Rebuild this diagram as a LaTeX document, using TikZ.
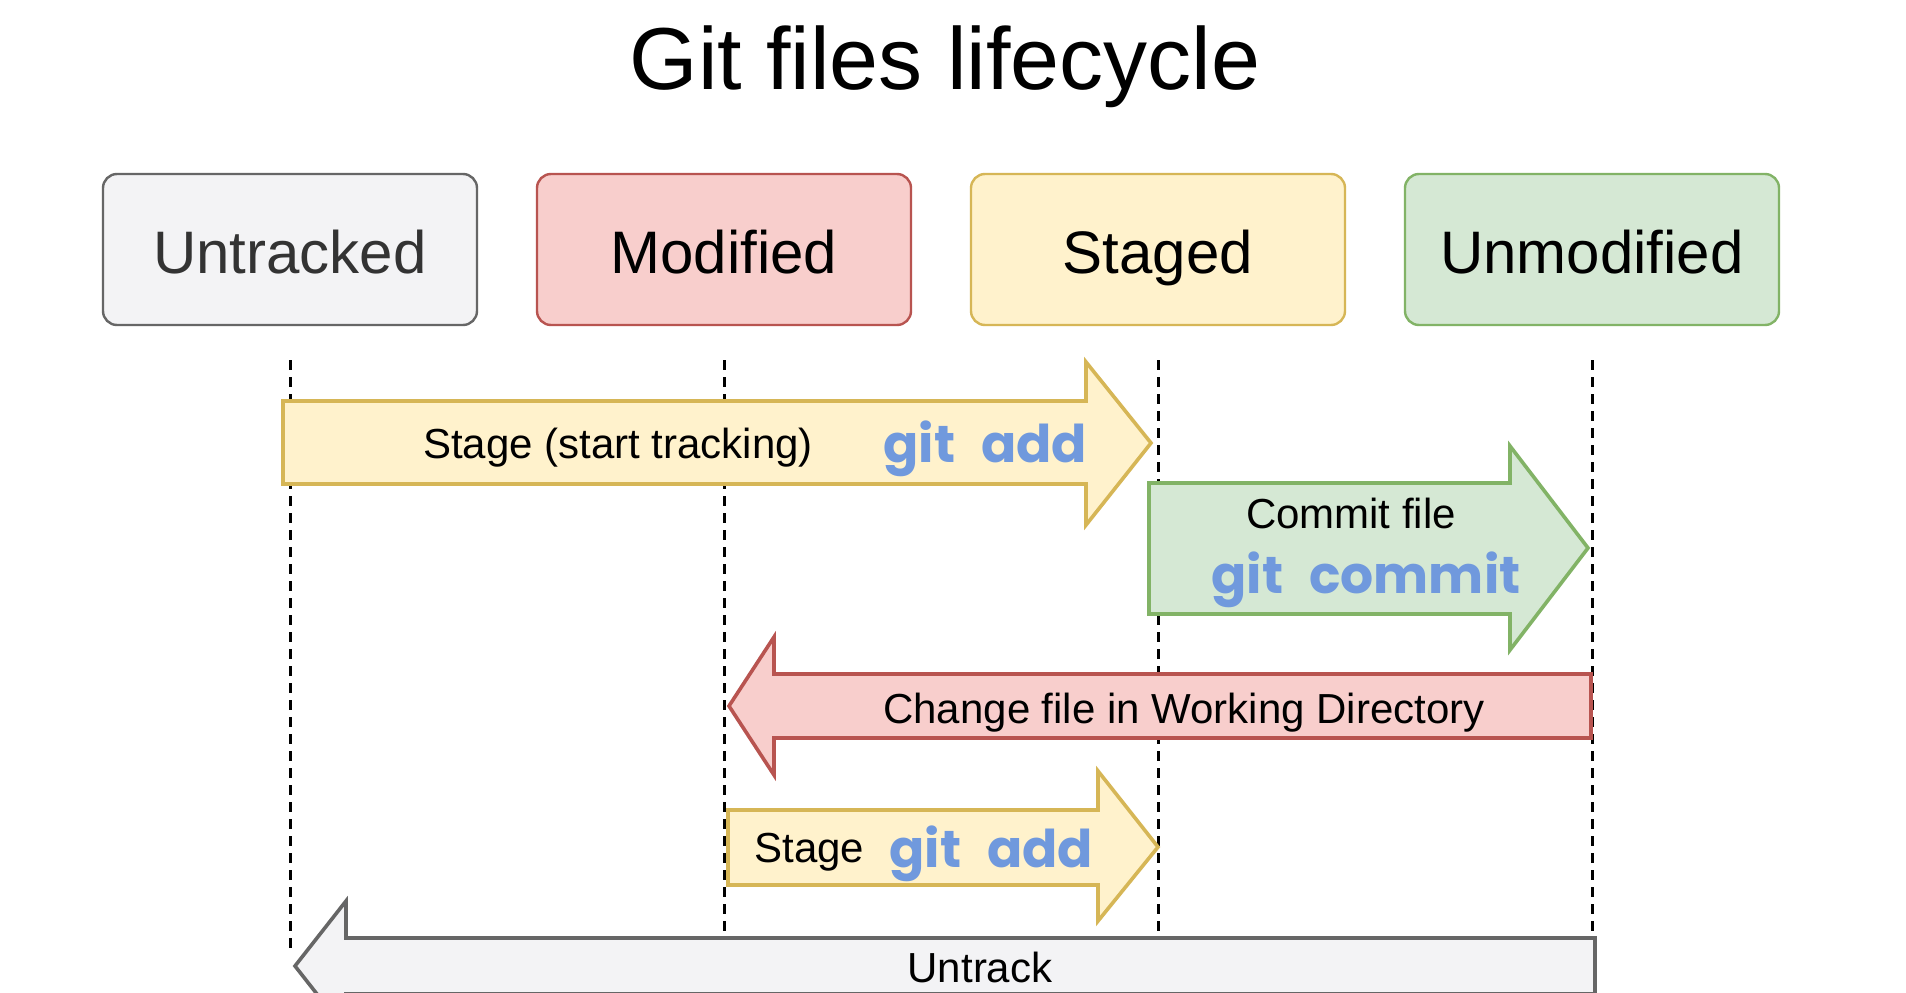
\documentclass[tikz,border=0pt]{standalone}
\usepackage{fontspec}
\setmainfont{Liberation Sans}
\newfontfamily\gitfont{Poppins}
\usetikzlibrary{positioning}

\definecolor{grayfill}{HTML}{F3F3F5}
\definecolor{grayline}{HTML}{666666}
\definecolor{graytext}{HTML}{333333}
\definecolor{redfill}{HTML}{F8CECC}
\definecolor{redline}{HTML}{B85450}
\definecolor{yellowfill}{HTML}{FFF2CC}
\definecolor{yellowline}{HTML}{D6B656}
\definecolor{greenfill}{HTML}{D5E8D4}
\definecolor{greenline}{HTML}{82B366}
\definecolor{gitblue}{HTML}{7099DD}

\newcommand{\gitcmd}[1]{\gitfont\bfseries\fontsize{52}{64}\selectfont git\hspace{15pt} #1}

\begin{document}
\begin{tikzpicture}
		[x=1pt, y=-1pt,
		state/.style={rectangle, rounded corners=14pt, draw, line width=2.4pt, outer sep=0pt,
			minimum width=374pt, minimum height=151pt, inner sep=0pt,
			text height=47pt, text depth=0pt, font=\fontsize{60}{72}\selectfont},
		lifeline/.style={dash pattern=on 10pt off 7pt, line width=3pt},
		blockarrow/.style={line width=3.6pt, line join=miter},
		label/.style={font=\fontsize{42}{50}\selectfont, anchor=base},
		cmd/.style={text=gitblue, anchor=base}]
		\clip (0,0) rectangle (1906,993);
		\fill[white] (0,0) rectangle (1906,993);
		\node[anchor=base, font=\fontsize{88}{100}\selectfont] (title) at (945,89) {Git files lifecycle};
		% states
		\node[state, fill=grayfill, draw=grayline, text=graytext] (untracked) at (290,249.5) {Untracked};
		\node[state, fill=redfill, draw=redline, right=60pt of untracked] (modified) {Modified};
		\node[state, fill=yellowfill, draw=yellowline, right=60pt of modified] (staged) {Staged};
		\node[state, fill=greenfill, draw=greenline, right=60pt of staged] (unmodified) {Unmodified};
		% lifelines
		\draw[lifeline] ([yshift=-35pt]untracked.south) -- ++(0,595);
		\draw[lifeline] ([yshift=-35pt]modified.south) -- ++(0,595);
		\draw[lifeline] ([yshift=-35pt]staged.south) -- ++(0,595);
		\draw[lifeline] ([yshift=-35pt]unmodified.south) -- ++(0,595);
		% transitions
		\draw[blockarrow, fill=yellowfill, draw=yellowline] (283,401) -- (1086,401) -- (1086,362)
			-- (1151,443) -- (1086,525) -- (1086,484) -- (283,484) -- cycle;
		\draw[blockarrow, fill=greenfill, draw=greenline] (1149,483) -- (1510,483) -- (1510,446)
			-- (1588,548) -- (1510,650) -- (1510,614) -- (1149,614) -- cycle;
		\draw[blockarrow, fill=redfill, draw=redline] (1591,674) -- (774,674) -- (774,637)
			-- (729,706) -- (774,775) -- (774,738) -- (1591,738) -- cycle;
		\draw[blockarrow, fill=yellowfill, draw=yellowline] (728,810) -- (1098,810) -- (1098,771)
			-- (1158,847) -- (1098,921) -- (1098,885) -- (728,885) -- cycle;
		\draw[blockarrow, fill=grayfill, draw=grayline] (1595,938) -- (346,938) -- (346,901)
			-- (295,966) -- (346,1031) -- (346,994) -- (1595,994) -- cycle;
		% labels
		\node[label] (stagetrack) at (618,458) {Stage (start tracking)};
		\node[cmd, anchor=base west] (addone) at (880,462) {\gitcmd{add}};
		\node[label] (commitfile) at (1351,528) {Commit file};
		\node[cmd] (commitcmd) at (1366,593) {\gitcmd{commit}};
		\node[label] (change) at (1184,723) {Change file in Working Directory};
		\node[label, anchor=base west] (stagetwo) at (751,862) {Stage};
		\node[cmd, anchor=base west] (addtwo) at (886,867) {\gitcmd{add}};
		\node[label] (untrack) at (980,982) {Untrack};
	\end{tikzpicture}
\end{document}
